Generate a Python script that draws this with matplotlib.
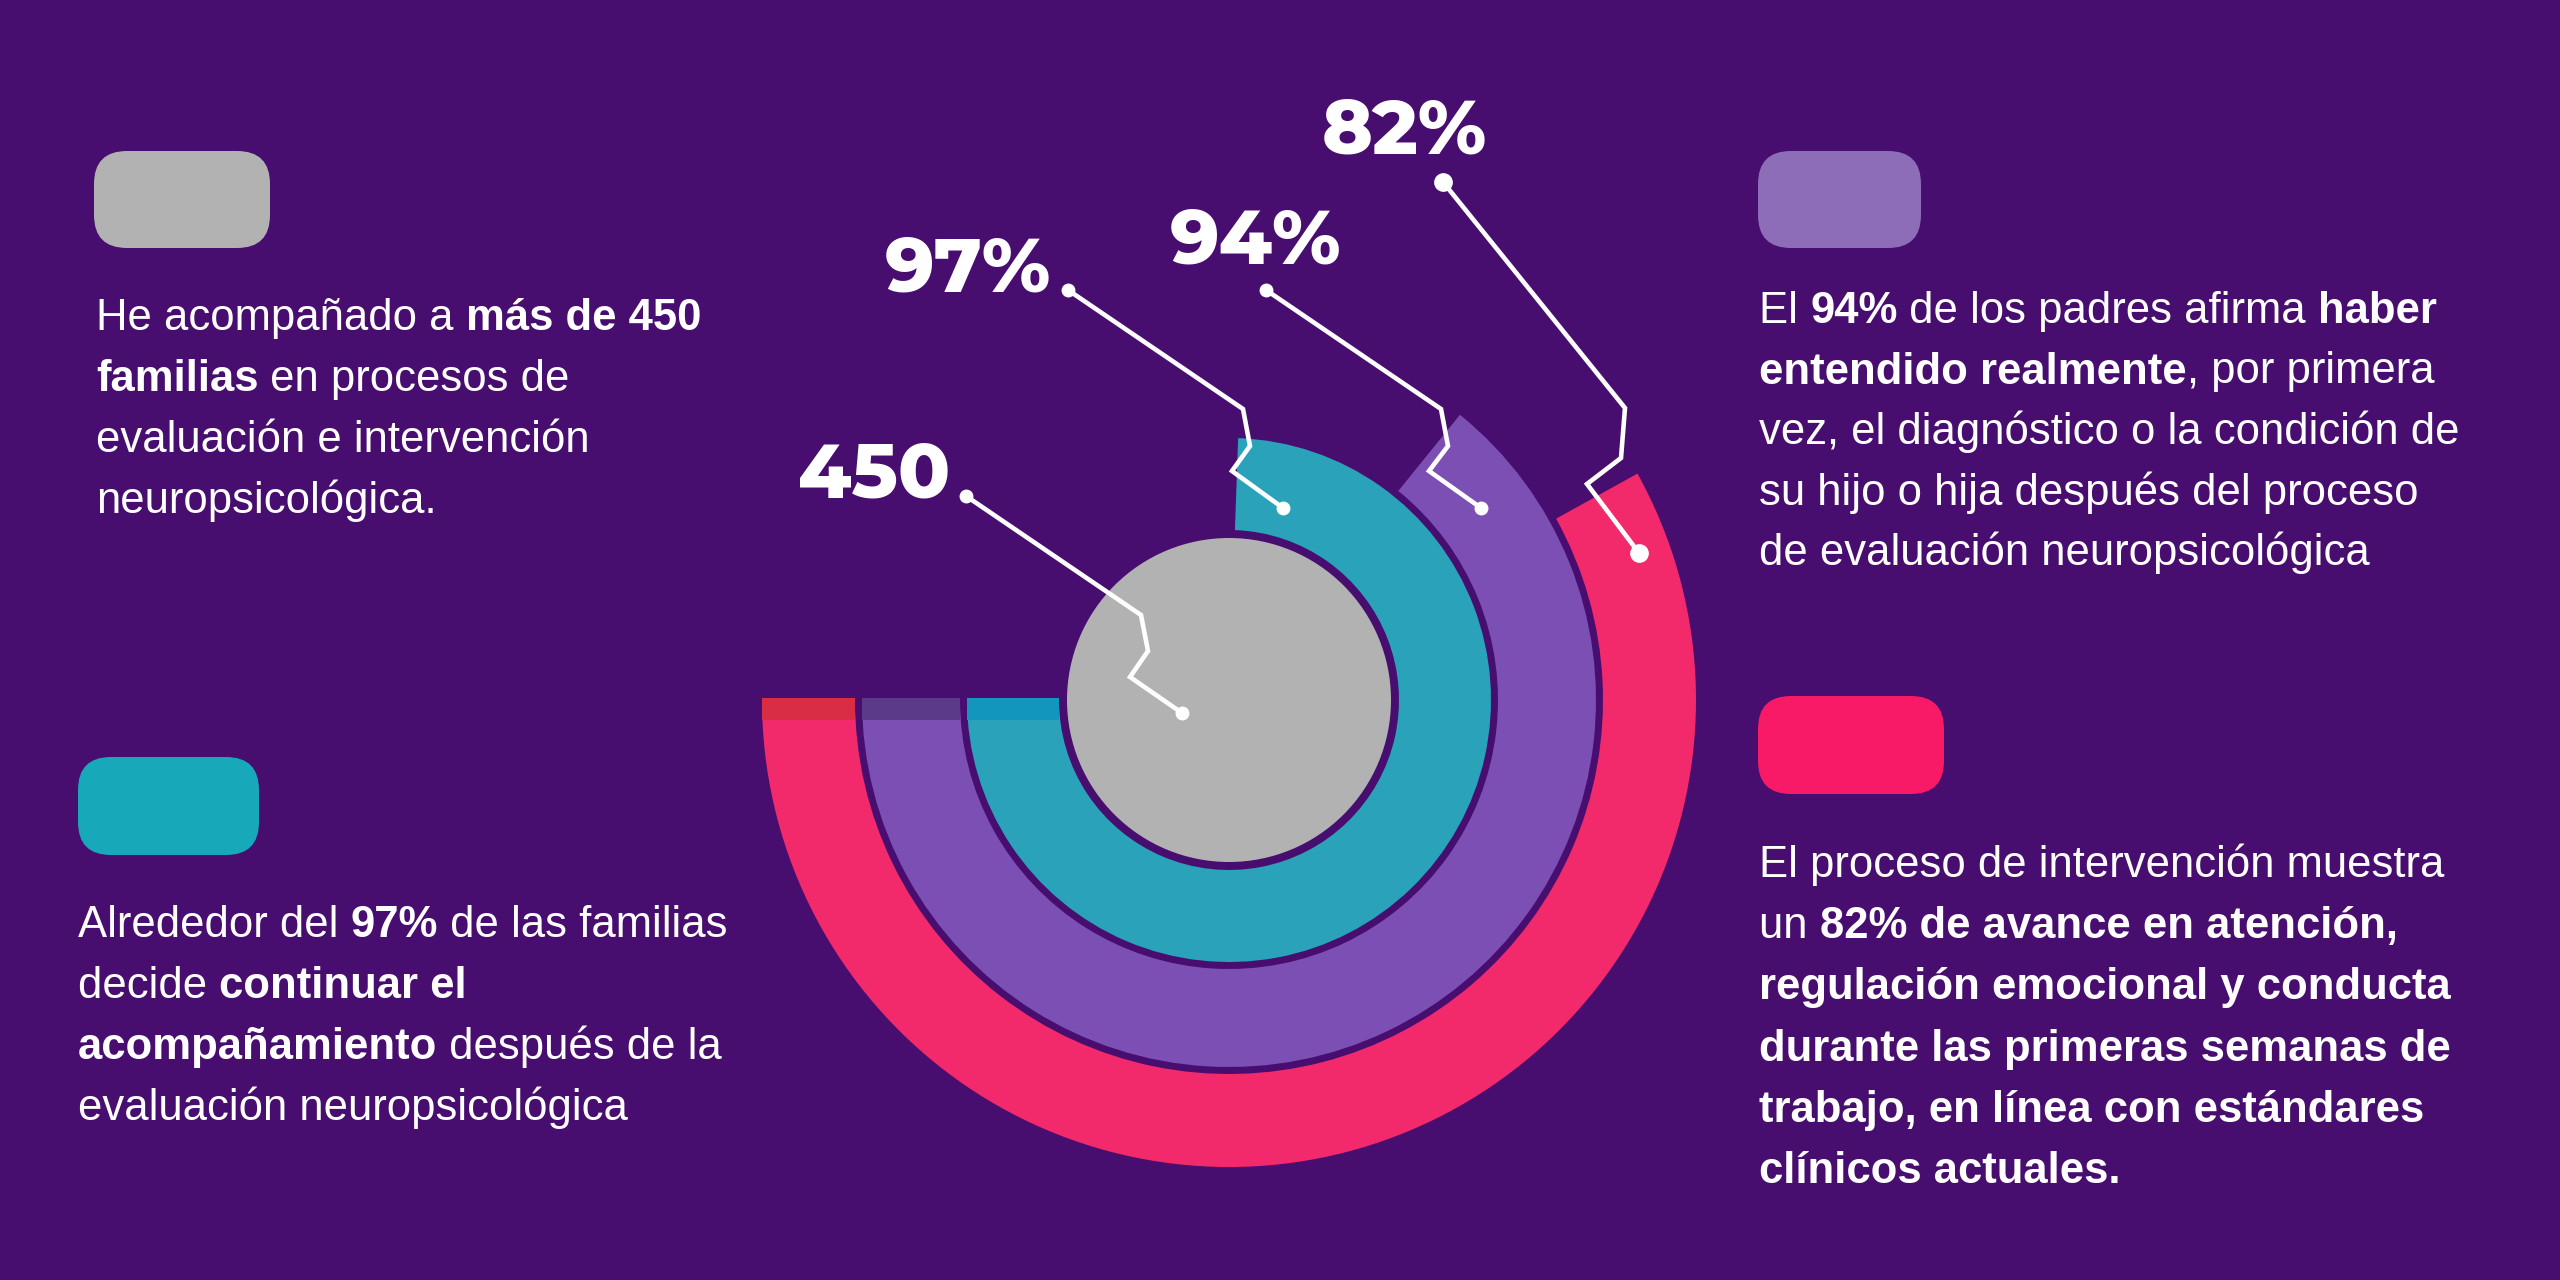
import matplotlib
matplotlib.use('Agg')
import matplotlib.pyplot as plt
from matplotlib.patches import Wedge, Circle, Rectangle, FancyBboxPatch

# ---- data ----
ring_labels = ['97%', '94%', '82%']
ring_values = [97, 94, 82]
arc_sweep = [268, 231, 209]          # degrees drawn
center_label = '450'

bg = '#480E6F'
ring_colors = ['#2AA3BA', '#7B4FB3', '#F22A6B']
strip_colors = ['#1396BE', '#5C3A8A', '#D92D45']
gray = '#B2B2B2'

blocks = [
    (96, 330, 61, ['He acompañado a **más de 450**',
                   '**familias** en procesos de',
                   'evaluación e intervención',
                   'neuropsicológica.']),
    (78, 937, 61, ['Alrededor del **97%** de las familias',
                   'decide **continuar el**',
                   '**acompañamiento** después de la',
                   'evaluación neuropsicológica']),
    (1759, 323, 60.5, ['El **94%** de los padres afirma **haber**',
                       '**entendido realmente**, por primera',
                       'vez, el diagnóstico o la condición de',
                       'su hijo o hija después del proceso',
                       'de evaluación neuropsicológica']),
    (1759, 877, 61.2, ['El proceso de intervención muestra',
                       'un **82% de avance en atención,**',
                       '**regulación emocional y conducta**',
                       '**durante las primeras semanas de**',
                       '**trabajo, en línea con estándares**',
                       '**clínicos actuales.**']),
]
legend_boxes = [(94, 151, 176, 97, '#B2B2B2'),
                (78, 757, 181, 98, '#17A8BA'),
                (1758, 151, 163, 97, '#8E6DB8'),
                (1758, 696, 186, 98, '#F81A66')]

# ---- figure in pixel coordinates ----
fig = plt.figure(figsize=(25.6, 12.8), dpi=100)
fig.patch.set_facecolor(bg)
ax = fig.add_axes([0, 0, 1, 1])
ax.set_xlim(0, 2560)
ax.set_ylim(1280, 0)
ax.set_facecolor(bg)
ax.axis('off')

cx, cy = 1229, 700
r_core = 162
radii = [(170, 262), (269, 367), (374, 467)]

ax.add_patch(Circle((cx, cy), r_core, color=gray, lw=0, zorder=2))
for (r_in, r_out), sweep, c, sc in zip(radii, arc_sweep, ring_colors, strip_colors):
    ax.add_patch(Wedge((cx, cy), r_out, 180 - sweep, 180, width=r_out - r_in,
                       color=c, lw=0, zorder=2))
    ax.add_patch(Rectangle((cx - r_out, cy - 2), r_out - r_in, 22, color=sc, lw=0, zorder=3))

# leader lines: label dot -> bends -> anchor on ring
leaders = [
    [(966, 496), (1141, 615), (1148, 651), (1130, 677), (1182, 713)],
    [(1068, 290), (1243, 409), (1250, 446), (1232, 471), (1283, 508)],
    [(1266, 290), (1441, 409), (1448, 446), (1429, 471), (1481, 508)],
    [(1443, 182), (1625, 408), (1621, 458), (1587, 484), (1639, 553)],
]
dot_sizes = [10, 10, 10, 13.5]
for pts, ms in zip(leaders, dot_sizes):
    xs = [p[0] for p in pts]
    ys = [p[1] for p in pts]
    ax.plot(xs, ys, color='white', lw=3.3, solid_joinstyle='miter', zorder=5)
    ax.plot([xs[0], xs[-1]], [ys[0], ys[-1]], 'o', color='white', ms=ms, mec='none', zorder=6)

big = dict(family=['Montserrat Alternates', 'DejaVu Sans'], weight=800,
           fontsize=55, color='white', ha='right', va='baseline', zorder=7)
ax.text(950, 498, center_label, **big)
for lab, (x, y) in zip(ring_labels, [(1051, 291), (1341, 263), (1487, 153)]):
    ax.text(x, y, lab, **big)

for x, y, w, h, c in legend_boxes:
    ax.add_patch(FancyBboxPatch((x, y), w, h, boxstyle='round,pad=0,rounding_size=33',
                                color=c, lw=0, zorder=2))

# ---- rich text with bold runs ----
body = dict(family=['Liberation Sans', 'DejaVu Sans'], fontsize=31.4, color='white',
            ha='left', va='baseline', zorder=7)
renderer = fig.canvas.get_renderer()
_xx = {}


def advance(s, weight):
    if weight not in _xx:
        t = ax.text(0, 0, 'xx', weight=weight, **body)
        _xx[weight] = t.get_window_extent(renderer).width
        t.remove()
    t = ax.text(0, 0, 'x' + s + 'x', weight=weight, **body)
    w = t.get_window_extent(renderer).width
    t.remove()
    return w - _xx[weight]


for x0, y0, step, lines in blocks:
    for i, line in enumerate(lines):
        x = x0
        y = y0 + i * step
        for j, seg in enumerate(line.split('**')):
            if not seg:
                continue
            weight = 'bold' if j % 2 else 'normal'
            ax.text(x, y, seg, weight=weight, **body)
            x += advance(seg, weight)

fig.savefig('out.png', dpi=100, facecolor=bg)
